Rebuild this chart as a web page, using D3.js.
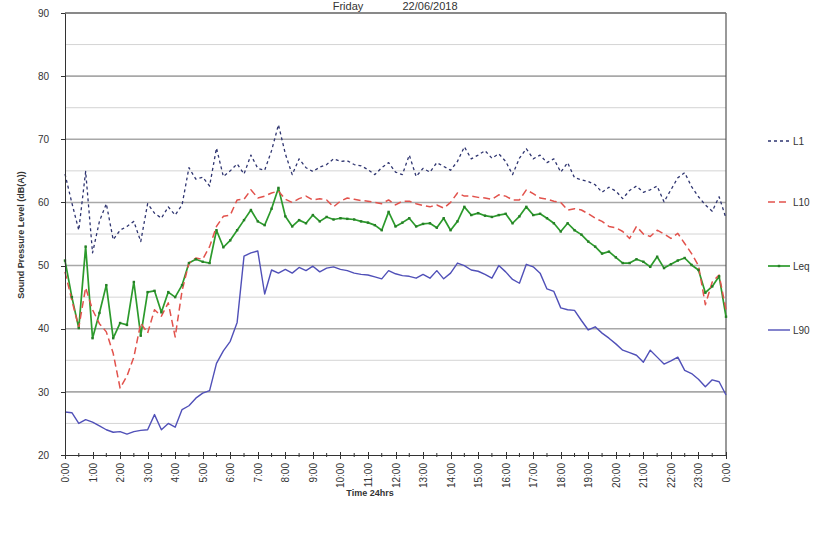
<!DOCTYPE html>
<html lang="en">
<head>
<meta charset="UTF-8">
<title>Sound Pressure Level - Friday 22/06/2018</title>
<style>
    body { margin:0; background:#fff; }
    svg { display:block; font-family: Arial, "Liberation Sans", sans-serif; }
    .axis path, .axis line { fill:none; stroke:#333; shape-rendering:crispEdges; }
    .axis text { font-size:10px; fill:#333; }
</style>
</head>
<body>
<script src="https://cdn.jsdelivr.net/npm/d3@7"></script>
<script type="text/javascript">
    // readings every 15 minutes, 0:00 -> 24:00 (97 points)
    var L1 = [64.5,59.9,55.6,64.9, 52.0,57.0,59.8,54.1, 55.6,56.2,57.0,53.8, 59.8,58.3,57.5,59.3,
              58.0,59.6,65.5,63.7, 64.0,62.6,68.6,64.1, 65.0,66.1,64.5,67.5, 65.4,65.1,68.2,72.3,
              67.7,64.4,66.9,65.5, 64.9,65.6,66.0,66.9, 66.5,66.6,66.0,65.8, 65.2,64.4,65.5,66.3,
              64.8,64.4,67.5,64.1, 65.4,64.8,66.3,65.7, 65.1,66.5,68.8,66.9, 67.5,68.2,67.0,67.7,
              66.5,64.4,67.0,68.5, 66.9,67.5,66.3,66.9, 64.8,66.3,63.9,63.6, 63.3,62.8,61.6,62.4,
              61.8,60.6,61.9,62.6, 61.6,62.0,62.6,60.1, 62.0,63.9,64.7,62.5, 60.9,59.6,58.6,60.9, 57.5];
    var L10 = [49.0,44.5,40.2,46.5, 43.0,40.8,39.5,36.1, 30.6,32.5,35.5,40.9, 39.3,43.0,42.0,44.1,
               38.7,46.0,50.4,51.2, 51.0,53.0,56.2,57.8, 58.0,60.4,60.5,62.0, 60.7,61.0,61.5,61.8,
               60.5,60.0,60.6,61.0, 60.4,60.6,60.4,59.3, 60.2,60.7,60.5,60.3, 60.2,60.0,59.8,60.4,
               59.6,60.2,60.2,59.8, 59.5,59.3,59.6,59.1, 60.0,61.5,61.0,61.0, 60.8,60.7,60.5,61.2,
               61.0,60.4,60.4,62.0, 61.4,60.7,60.5,60.2, 60.0,58.8,59.0,58.8, 58.2,57.5,57.0,56.2,
               56.0,55.4,54.3,56.2, 55.0,54.6,55.6,55.0, 54.3,55.1,53.5,51.9, 50.0,43.8,47.4,48.5, 43.0];
    var Leq = [50.8,45.0,40.1,53.0, 38.5,42.5,46.9,38.5, 40.9,40.6,47.4,38.9, 45.8,46.0,42.6,45.8,
               45.0,46.9,50.4,51.0, 50.6,50.4,55.6,52.9, 54.0,55.6,57.2,58.8, 57.0,56.4,59.0,62.3,
               57.8,56.2,57.2,56.7, 58.0,57.0,57.7,57.3, 57.5,57.4,57.3,57.0, 56.8,56.4,55.6,58.5,
               56.2,56.8,57.5,56.2, 56.6,56.7,56.0,57.5, 55.6,57.0,59.3,58.0, 58.3,57.9,57.7,58.0,
               58.2,56.7,57.8,59.3, 58.0,58.2,57.5,56.7, 55.4,56.7,55.6,54.9, 53.8,53.0,51.9,52.2,
               51.3,50.4,50.4,51.0, 50.6,49.8,51.4,49.6, 50.2,50.8,51.2,50.1, 49.3,45.7,46.7,48.3, 41.9];
    var L90 = [26.8,26.7,25.0,25.6, 25.2,24.6,24.0,23.6, 23.7,23.3,23.7,23.9, 24.0,26.4,24.0,25.0,
               24.4,27.2,27.8,29.0, 29.8,30.2,34.5,36.5, 38.0,41.0,51.5,52.0, 52.3,45.5,49.3,48.8,
               49.4,48.8,49.7,49.2, 49.9,49.0,49.6,49.8, 49.4,49.2,48.8,48.6, 48.5,48.2,47.9,49.2,
               48.7,48.4,48.3,48.0, 48.6,48.0,49.2,47.9, 48.8,50.4,50.0,49.3, 49.1,48.6,48.0,50.0,
               49.0,47.8,47.2,50.2, 49.8,48.8,46.3,45.9, 43.3,43.0,42.9,41.3, 39.8,40.3,39.3,38.5,
               37.6,36.6,36.2,35.8, 34.7,36.6,35.5,34.4, 34.9,35.5,33.4,32.9, 32.0,30.8,31.9,31.6, 29.5];
    var seriesNames = ["L1", "L10", "Leq", "L90"];
    var hourLabels = ["0:00","1:00","2:00","3:00","4:00","5:00","6:00","7:00","8:00","9:00","10:00","11:00",
                      "12:00","13:00","14:00","15:00","16:00","17:00","18:00","19:00","20:00","21:00","22:00","23:00","0:00"];
    var yTicks = [20,30,40,50,60,70,80,90];

    var w = 840, h = 536;
    var plotL = 65, plotR = 726, plotT = 13, plotB = 455;

    var xScale = d3.scaleLinear().domain([0,24]).range([plotL,plotR]);
    var yScale = d3.scaleLinear().domain([20,90]).range([plotB,plotT]);

    var svg = d3.select("body").append("svg").attr("width",w).attr("height",h);

    // grid lines, every 5 dB
    svg.append("g").selectAll("line")
        .data(d3.range(25,91,5))
        .enter().append("line")
        .attr("x1",plotL).attr("x2",plotR)
        .attr("y1",function (d) { return yScale(d); })
        .attr("y2",function (d) { return yScale(d); })
        .attr("stroke",function (d) { return d % 10 === 0 ? "#a8a8a8" : "#d4d4d4"; })
        .attr("stroke-width",function (d) { return d % 10 === 0 ? 1.6 : 1; });

    // right border
    svg.append("line").attr("x1",plotR).attr("x2",plotR).attr("y1",plotT).attr("y2",plotB)
        .attr("stroke","#555").attr("stroke-width",1.2);

    var line = d3.line()
        .x(function (d, i) { return xScale(i * 0.25); })
        .y(function (d) { return yScale(d); });

    var styles = {
        L1:  {data:L1,  color:"#2e3470", dash:"3,3", width:1.3},
        L10: {data:L10, color:"#e2524c", dash:"7,4", width:1.5},
        Leq: {data:Leq, color:"#2c9a2c", dash:null,  width:1.7},
        L90: {data:L90, color:"#5050b8", dash:null,  width:1.4}
    };

    ["L90","Leq","L10","L1"].forEach(function (name) {
        var s = styles[name];
        svg.append("path")
            .datum(s.data)
            .attr("fill","none")
            .attr("stroke",s.color)
            .attr("stroke-width",s.width)
            .attr("stroke-dasharray",s.dash)
            .attr("stroke-linejoin","round")
            .attr("d",line);
    });

    // small markers on Leq
    svg.append("g").selectAll("rect")
        .data(Leq)
        .enter().append("rect")
        .attr("x",function (d, i) { return xScale(i * 0.25) - 1.2; })
        .attr("y",function (d) { return yScale(d) - 1.2; })
        .attr("width",2.4).attr("height",2.4)
        .attr("fill","#267f26");

    // axes
    var yAxis = d3.axisLeft(yScale).tickValues(yTicks).tickSize(4).tickPadding(12);
    svg.append("g").attr("class","axis")
        .attr("transform","translate("+plotL+",0)")
        .call(yAxis)
        .call(function (g) { g.select(".domain").attr("stroke-width",1.5); });

    // top frame line
    svg.append("line").attr("x1",plotL).attr("x2",plotR).attr("y1",plotT).attr("y2",plotT)
        .attr("stroke","#777").attr("stroke-width",1.5);

    var xAxis = d3.axisBottom(xScale)
        .tickValues(d3.range(0,25,1))
        .tickFormat(function (d, i) { return hourLabels[i]; })
        .tickSize(4).tickSizeOuter(0);
    var gx = svg.append("g").attr("class","axis")
        .attr("transform","translate(0,"+plotB+")")
        .call(xAxis);
    gx.select(".domain").attr("stroke-width",1.5);
    gx.selectAll(".tick line").attr("y1",-3).attr("y2",4);
    gx.selectAll("text")
        .attr("transform","rotate(-90)")
        .attr("text-anchor","end")
        .attr("x",-8).attr("y",0).attr("dy","0.35em");

    // half-hour minor ticks
    svg.append("g").selectAll("line")
        .data(d3.range(0.5,24,1))
        .enter().append("line")
        .attr("x1",function (d) { return xScale(d); })
        .attr("x2",function (d) { return xScale(d); })
        .attr("y1",plotB - 2).attr("y2",plotB + 2)
        .attr("stroke","#333");

    // titles
    svg.append("text").attr("x",348).attr("y",10).attr("text-anchor","middle")
        .attr("font-size","11px").attr("fill","#333").text("Friday");
    svg.append("text").attr("x",430).attr("y",10).attr("text-anchor","middle")
        .attr("font-size","11px").attr("fill","#333").text("22/06/2018");
    svg.append("text").attr("x",370).attr("y",496).attr("text-anchor","middle")
        .attr("font-size","9px").attr("font-weight","bold").attr("fill","#333").text("Time 24hrs");
    svg.append("text")
        .attr("transform","translate(24,235) rotate(-90)")
        .attr("text-anchor","middle")
        .attr("font-size","9px").attr("font-weight","bold").attr("fill","#333")
        .text("Sound Pressure Level (dB(A))");

    // legend
    var legY = [141, 202, 266, 330];
    var legend = svg.append("g").selectAll("g")
        .data(seriesNames)
        .enter().append("g")
        .attr("transform",function (d, i) { return "translate(768,"+legY[i]+")"; });
    legend.append("line")
        .attr("x1",0).attr("x2",22).attr("y1",0).attr("y2",0)
        .attr("stroke",function (d) { return styles[d].color; })
        .attr("stroke-width",function (d) { return styles[d].width; })
        .attr("stroke-dasharray",function (d) { return styles[d].dash; });
    legend.filter(function (d) { return d === "Leq"; }).append("rect")
        .attr("x",9.8).attr("y",-1.2).attr("width",2.4).attr("height",2.4).attr("fill","#267f26");
    legend.append("text")
        .attr("x",25).attr("y",0).attr("dy","0.35em")
        .attr("font-size","10px").attr("fill","#333")
        .text(function (d) { return d; });
</script>
</body>
</html>
